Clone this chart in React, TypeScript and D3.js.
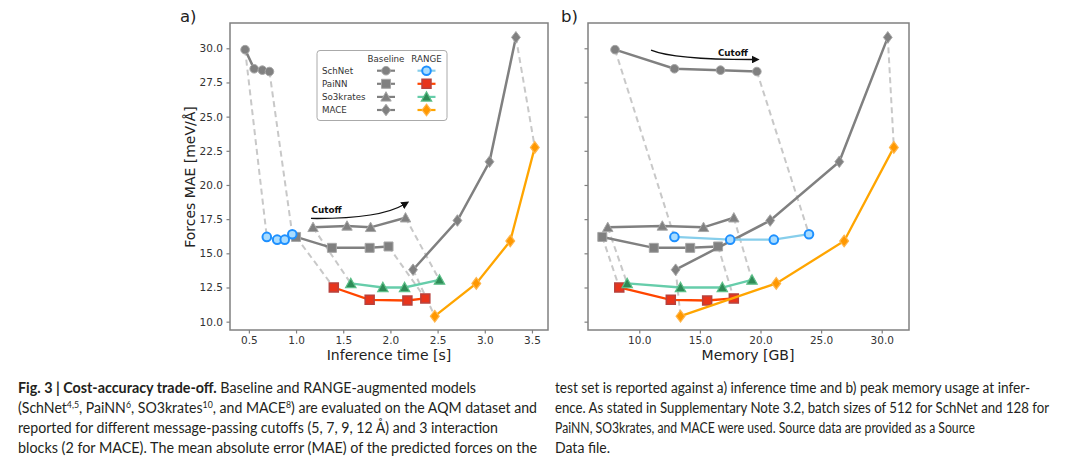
import React, { useEffect, useRef } from "react";
import * as d3 from "d3";

// cutoffs 5, 7, 9, 12 Å — MAE of forces [meV/Å]
const schnetMaeBase = [29.9, 28.5, 28.4, 28.3];
const schnetMaeRange = [16.2, 16.0, 16.0, 16.4];
const painnMaeBase = [16.2, 15.4, 15.4, 15.5];
const painnMaeRange = [12.5, 11.6, 11.55, 11.7];
const so3MaeBase = [16.9, 17.0, 16.9, 17.6];
const so3MaeRange = [12.8, 12.5, 12.5, 13.05];
const maceMaeBase = [13.8, 17.4, 21.7, 30.8];
const maceMaeRange = [10.4, 12.8, 15.9, 22.75];

// inference time [s]
const schnetTimeBase = [0.46, 0.556, 0.643, 0.718];
const schnetTimeRange = [0.69, 0.8, 0.88, 0.96];
const painnTimeBase = [1.0, 1.38, 1.78, 1.98];
const painnTimeRange = [1.4, 1.78, 2.18, 2.37];
const so3TimeBase = [1.18, 1.54, 1.79, 2.16];
const so3TimeRange = [1.58, 1.92, 2.15, 2.52];
const maceTimeBase = [2.24, 2.71, 3.05, 3.33];
const maceTimeRange = [2.47, 2.91, 3.27, 3.53];

// peak memory [GB]
const schnetMemBase = [8.0, 12.9, 16.7, 19.7];
const schnetMemRange = [12.9, 17.5, 21.1, 24.0];
const painnMemBase = [6.95, 11.2, 14.2, 16.5];
const painnMemRange = [8.35, 12.6, 15.6, 17.8];
const so3MemBase = [7.4, 11.9, 15.3, 17.8];
const so3MemRange = [9.0, 13.4, 16.85, 19.3];
const maceMemBase = [13.0, 20.8, 26.5, 30.5];
const maceMemRange = [13.4, 21.3, 26.9, 31.0];

const modelNames = ["SchNet", "PaiNN", "So3krates", "MACE"];
const timeTicks = [0.5, 1.0, 1.5, 2.0, 2.5, 3.0, 3.5];
const memTicks = [10, 15, 20, 25, 30];
const maeTicks = [10, 12.5, 15, 17.5, 20, 22.5, 25, 27.5, 30];

type Shape = "circle" | "square" | "triangle" | "diamond";

const models = [
  { name: "SchNet", maeB: schnetMaeBase, maeR: schnetMaeRange, tB: schnetTimeBase, tR: schnetTimeRange, mB: schnetMemBase, mR: schnetMemRange },
  { name: "PaiNN", maeB: painnMaeBase, maeR: painnMaeRange, tB: painnTimeBase, tR: painnTimeRange, mB: painnMemBase, mR: painnMemRange },
  { name: "So3krates", maeB: so3MaeBase, maeR: so3MaeRange, tB: so3TimeBase, tR: so3TimeRange, mB: so3MemBase, mR: so3MemRange },
  { name: "MACE", maeB: maceMaeBase, maeR: maceMaeRange, tB: maceTimeBase, tR: maceTimeRange, mB: maceMemBase, mR: maceMemRange },
];

const styles: Record<string, { shape: Shape; line: string; fill: string; edge: string; edgeW: number }> = {
  SchNet: { shape: "circle", line: "#87ceeb", fill: "#a8dcff", edge: "#1e90ff", edgeW: 2 },
  PaiNN: { shape: "square", line: "#ff4500", fill: "#e8341c", edge: "#b8413c", edgeW: 1.5 },
  So3krates: { shape: "triangle", line: "#66cdaa", fill: "#2e8b57", edge: "#5cbf88", edgeW: 1.2 },
  MACE: { shape: "diamond", line: "#ffa500", fill: "#ff9800", edge: "#ffb54a", edgeW: 1.2 },
};
const baseShapes: Record<string, Shape> = { SchNet: "circle", PaiNN: "square", So3krates: "triangle", MACE: "diamond" };

const GRAY = "#808080";
const MPL_FONT = "'DejaVu Sans', sans-serif";

function shapePath(shape: Shape) {
  switch (shape) {
    case "circle":
      return d3.symbol(d3.symbolCircle, Math.PI * 4.3 * 4.3)()!;
    case "square":
      return "M-4.5,-4.5H4.5V4.5H-4.5Z";
    case "triangle":
      return "M0,-5.2L5.2,4.2L-5.2,4.2Z";
    default:
      return "M0,-5.8L4.4,0L0,5.8L-4.4,0Z";
  }
}

function drawMarker(
  g: d3.Selection<SVGGElement, unknown, null, undefined>,
  x: number,
  y: number,
  shape: Shape,
  fill: string,
  edge: string,
  edgeW: number
) {
  g.append("path")
    .attr("d", shapePath(shape))
    .attr("transform", `translate(${x},${y})`)
    .attr("fill", fill)
    .attr("stroke", edge)
    .attr("stroke-width", edgeW);
}

function drawPanel(
  root: d3.Selection<SVGGElement, unknown, null, undefined>,
  x: d3.ScaleLinear<number, number>,
  y: d3.ScaleLinear<number, number>,
  which: "time" | "mem",
  showYLabels: boolean
) {
  const [x0, x1] = x.range();
  const [y0, y1] = y.range();
  const g = root.append("g");

  const getB = (m: (typeof models)[number]) => (which === "time" ? m.tB : m.mB);
  const getR = (m: (typeof models)[number]) => (which === "time" ? m.tR : m.mR);

  // dashed connectors: first and last cutoff
  models.forEach((m) => {
    [0, 3].forEach((i) => {
      g.append("line")
        .attr("x1", x(getB(m)[i]))
        .attr("y1", y(m.maeB[i]))
        .attr("x2", x(getR(m)[i]))
        .attr("y2", y(m.maeR[i]))
        .attr("stroke", "#c8c8c8")
        .attr("stroke-width", 2)
        .attr("stroke-dasharray", "6,4");
    });
  });

  const line = d3
    .line<[number, number]>()
    .x((d) => x(d[0]))
    .y((d) => y(d[1]));

  // baseline
  models.forEach((m) => {
    const pts = getB(m).map((v, i) => [v, m.maeB[i]] as [number, number]);
    g.append("path").attr("d", line(pts)).attr("fill", "none").attr("stroke", GRAY).attr("stroke-width", 2.5);
    pts.forEach((p) => drawMarker(g, x(p[0]), y(p[1]), baseShapes[m.name], GRAY, "#a6a6a6", 1));
  });
  // RANGE
  models.forEach((m) => {
    const s = styles[m.name];
    const pts = getR(m).map((v, i) => [v, m.maeR[i]] as [number, number]);
    g.append("path").attr("d", line(pts)).attr("fill", "none").attr("stroke", s.line).attr("stroke-width", 2.3);
    pts.forEach((p) => drawMarker(g, x(p[0]), y(p[1]), s.shape, s.fill, s.edge, s.edgeW));
  });

  // axes
  const xAxis = d3
    .axisBottom(x)
    .tickValues(which === "time" ? timeTicks : memTicks)
    .tickFormat(d3.format(".1f"))
    .tickSize(3.5)
    .tickPadding(3.5);
  const yAxis = d3
    .axisLeft(y)
    .tickValues(maeTicks)
    .tickFormat(showYLabels ? d3.format(".1f") : () => "")
    .tickSize(3.5)
    .tickPadding(3.5);

  const ax = root.append("g").attr("transform", `translate(0,${y0})`).call(xAxis);
  const ay = root.append("g").attr("transform", `translate(${x0},0)`).call(yAxis);
  [ax, ay].forEach((a) => {
    a.select(".domain").remove();
    a.selectAll(".tick line").attr("stroke", GRAY).attr("stroke-width", 1.2);
    a.selectAll(".tick text").attr("fill", "#333").style("font-family", MPL_FONT).style("font-size", "10.5px");
  });

  root
    .append("rect")
    .attr("x", x0)
    .attr("y", y1)
    .attr("width", x1 - x0)
    .attr("height", y0 - y1)
    .attr("fill", "none")
    .attr("stroke", GRAY)
    .attr("stroke-width", 1.5);
}

function drawArrow(
  root: d3.Selection<SVGGElement, unknown, null, undefined>,
  x: d3.ScaleLinear<number, number>,
  y: d3.ScaleLinear<number, number>,
  from: [number, number],
  ctrl: [number, number],
  to: [number, number],
  label: [number, number],
  anchor: string
) {
  root
    .append("path")
    .attr("d", `M${x(from[0])},${y(from[1])}Q${x(ctrl[0])},${y(ctrl[1])} ${x(to[0])},${y(to[1])}`)
    .attr("fill", "none")
    .attr("stroke", "#111")
    .attr("stroke-width", 1.3)
    .attr("marker-end", "url(#arrowhead)");
  root
    .append("text")
    .attr("x", x(label[0]))
    .attr("y", y(label[1]))
    .attr("text-anchor", anchor)
    .style("font-family", MPL_FONT)
    .style("font-weight", "bold")
    .style("font-size", "8.8px")
    .attr("fill", "#111")
    .text("Cutoff");
}

function Chart() {
  const ref = useRef<SVGGElement>(null);

  useEffect(() => {
    if (!ref.current) return;
    const root = d3.select(ref.current);
    root.selectAll("*").remove();

    const defs = root.append("defs");
    defs
      .append("marker")
      .attr("id", "arrowhead")
      .attr("viewBox", "0 0 10 10")
      .attr("refX", 2)
      .attr("refY", 5)
      .attr("markerWidth", 8)
      .attr("markerHeight", 8)
      .attr("markerUnits", "userSpaceOnUse")
      .attr("orient", "auto")
      .append("path")
      .attr("d", "M0,0L10,5L0,10Z")
      .attr("fill", "#111");

    const y = d3.scaleLinear().domain([9.39, 31.85]).range([330, 23]);
    const xTime = d3.scaleLinear().domain([0.3, 3.67]).range([230, 548]);
    const xMem = d3.scaleLinear().domain([5.77, 32.25]).range([588, 909]);

    drawPanel(root, xTime, y, "time", true);
    drawPanel(root, xMem, y, "mem", false);

    drawArrow(root, xTime, y, [1.158, 17.55], [1.88, 17.5], [2.14, 18.55], [1.165, 17.92], "start");
    drawArrow(root, xMem, y, [10.97, 29.87], [12.9, 29.17], [19.4, 29.18], [18.97, 29.47], "end");

    // axis labels
    root
      .append("text")
      .attr("transform", `translate(195,177) rotate(-90)`)
      .attr("text-anchor", "middle")
      .style("font-family", MPL_FONT)
      .style("font-size", "14px")
      .attr("fill", "#222")
      .text("Forces MAE [meV/Å]");
    root
      .append("text")
      .attr("x", 389)
      .attr("y", 360)
      .attr("text-anchor", "middle")
      .style("font-family", MPL_FONT)
      .style("font-size", "14px")
      .attr("fill", "#222")
      .text("Inference time [s]");
    root
      .append("text")
      .attr("x", 748)
      .attr("y", 360)
      .attr("text-anchor", "middle")
      .style("font-family", MPL_FONT)
      .style("font-size", "14px")
      .attr("fill", "#222")
      .text("Memory [GB]");
    [
      ["a)", 180],
      ["b)", 561],
    ].forEach(([t, px]) => {
      root
        .append("text")
        .attr("x", px as number)
        .attr("y", 22)
        .style("font-family", MPL_FONT)
        .style("font-size", "16.5px")
        .attr("fill", "#222")
        .text(t as string);
    });

    // legend
    const lg = root.append("g");
    lg.append("rect")
      .attr("x", 317)
      .attr("y", 50.5)
      .attr("width", 130)
      .attr("height", 70)
      .attr("rx", 3)
      .attr("fill", "white")
      .attr("fill-opacity", 0.85)
      .attr("stroke", "#aaa")
      .attr("stroke-width", 1);
    const colB = 386;
    const colR = 426.5;
    [
      ["Baseline", colB],
      ["RANGE", colR],
    ].forEach(([t, cx]) => {
      lg.append("text")
        .attr("x", cx as number)
        .attr("y", 61.5)
        .attr("text-anchor", "middle")
        .style("font-family", MPL_FONT)
        .style("font-size", "8.7px")
        .attr("fill", "#333")
        .text(t as string);
    });
    const legendY = d3.scalePoint<string>().domain(modelNames).range([70.7, 110]);
    modelNames.forEach((name) => {
      const yy = legendY(name)!;
      const s = styles[name];
      lg.append("text")
        .attr("x", 322)
        .attr("y", yy + 3.1)
        .style("font-family", MPL_FONT)
        .style("font-size", "8.7px")
        .attr("fill", "#333")
        .text(name);
      lg.append("line").attr("x1", colB - 9).attr("x2", colB + 9).attr("y1", yy).attr("y2", yy).attr("stroke", GRAY).attr("stroke-width", 2.2);
      drawMarker(lg, colB, yy, baseShapes[name], GRAY, "#a6a6a6", 1);
      lg.append("line").attr("x1", colR - 9).attr("x2", colR + 9).attr("y1", yy).attr("y2", yy).attr("stroke", s.line).attr("stroke-width", 2.2);
      drawMarker(lg, colR, yy, s.shape, s.fill, s.edge, s.edgeW);
    });
  }, []);

  return <g ref={ref} />;
}

const CAP_FONT = "Lato, 'Open Sans', sans-serif";
const capStyle = { fontFamily: CAP_FONT, fontSize: "14.5px", fill: "#231f20" } as React.CSSProperties;
const Sup = ({ t }: { t: string }) => (
  <tspan baselineShift="super" fontSize="9px">
    {t}
  </tspan>
);

export default function App() {
  return (
    <svg
      width={1080}
      height={463}
      style={{ position: "absolute", left: 0, top: 0, background: "white" }}
    >
      <rect width={1080} height={463} fill="white" />
      <Chart />
      <g style={capStyle}>
        <text x={18} y={393} textLength={458} lengthAdjust="spacingAndGlyphs">
          <tspan fontWeight="bold">Fig. 3 | Cost-accuracy trade-off.</tspan>
          <tspan> Baseline and RANGE-augmented models</tspan>
        </text>
        <text x={18} y={413} textLength={519} lengthAdjust="spacingAndGlyphs">
          <tspan>(SchNet</tspan>
          <Sup t="4,5" />
          <tspan>, PaiNN</tspan>
          <Sup t="6" />
          <tspan>, SO3krates</tspan>
          <Sup t="10" />
          <tspan>, and MACE</tspan>
          <Sup t="8" />
          <tspan>) are evaluated on the AQM dataset and</tspan>
        </text>
        <text x={18} y={433} textLength={480} lengthAdjust="spacingAndGlyphs">
          reported for different message-passing cutoffs (5, 7, 9, 12 Å) and 3 interaction
        </text>
        <text x={18} y={453} textLength={519} lengthAdjust="spacingAndGlyphs">
          blocks (2 for MACE). The mean absolute error (MAE) of the predicted forces on the
        </text>
        <text x={555} y={393} textLength={475} lengthAdjust="spacingAndGlyphs">
          test set is reported against a) inference time and b) peak memory usage at infer-
        </text>
        <text x={555} y={413} textLength={494} lengthAdjust="spacingAndGlyphs">
          ence. As stated in Supplementary Note 3.2, batch sizes of 512 for SchNet and 128 for
        </text>
        <text x={555} y={433} textLength={420} lengthAdjust="spacingAndGlyphs">
          PaiNN, SO3krates, and MACE were used. Source data are provided as a Source
        </text>
        <text x={555} y={453} textLength={55} lengthAdjust="spacingAndGlyphs">
          Data file.
        </text>
      </g>
    </svg>
  );
}
